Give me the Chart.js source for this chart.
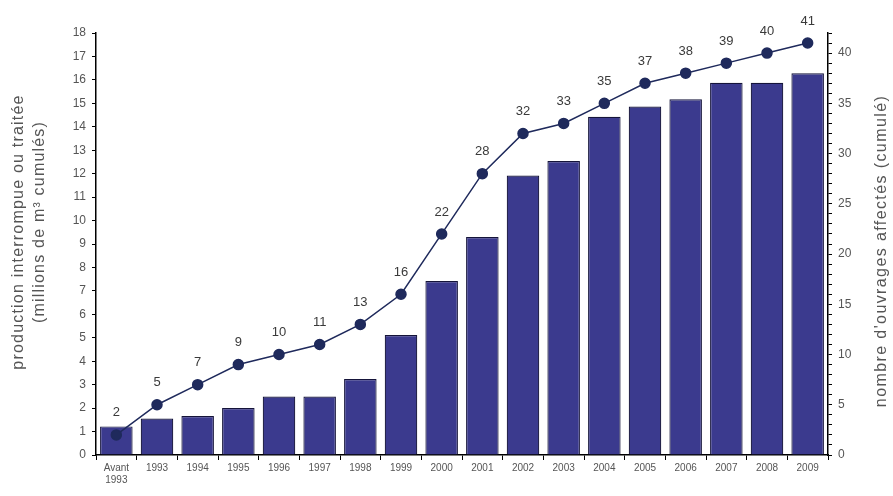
<!DOCTYPE html>
<html>
<head>
<meta charset="utf-8">
<script src="https://cdn.jsdelivr.net/npm/chart.js@4"></script>
<style>
  html, body { margin: 0; padding: 0; background: #fff; }
  #wrap { width: 893px; height: 496px; }
</style>
</head>
<body>
<div id="wrap"><canvas id="myChart"></canvas></div>
<script>
"use strict";
const years = [['Avant', '1993'], '1993', '1994', '1995', '1996', '1997', '1998', '1999', '2000',
  '2001', '2002', '2003', '2004', '2005', '2006', '2007', '2008', '2009'];
const production = [1.22, 1.56, 1.66, 2.0, 2.49, 2.49, 3.24, 5.12, 7.42, 9.3, 11.92, 12.54,
  14.43, 14.86, 15.17, 15.88, 15.88, 16.28];
const ouvrages = [2, 5, 7, 9, 10, 11, 13, 16, 22, 28, 32, 33, 35, 37, 38, 39, 40, 41];
const leftTitle = ['production interrompue ou traitée', '(millions de m³ cumulés)'];
const rightTitle = "nombre d'ouvrages affectés (cumulé)";

const fontName = "'Liberation Sans', sans-serif";

// numbers above the line points + rotated axis titles
const extras = {
  id: 'extras',
  afterDatasetsDraw(chart) {
    const ctx = chart.ctx;
    const meta = chart.getDatasetMeta(1);
    ctx.save();
    ctx.fillStyle = '#3a3a3a';
    ctx.font = '13px ' + fontName;
    ctx.textAlign = 'center';
    ctx.textBaseline = 'middle';
    meta.data.forEach((pt, i) => {
      ctx.fillText(String(ouvrages[i]), pt.x, pt.y - 22);
    });
    ctx.restore();
  },
  afterDraw(chart) {
    const ctx = chart.ctx;
    ctx.save();
    ctx.fillStyle = '#555';
    ctx.font = '16px ' + fontName;
    ctx.letterSpacing = '1.2px';
    ctx.textAlign = 'center';
    ctx.textBaseline = 'middle';
    ctx.translate(19, 232);
    ctx.rotate(-Math.PI / 2);
    ctx.fillText(leftTitle[0], 0, 0);
    ctx.fillText(leftTitle[1], 10, 21);
    ctx.restore();
    ctx.save();
    ctx.fillStyle = '#555';
    ctx.font = '16px ' + fontName;
    ctx.letterSpacing = '1.4px';
    ctx.textAlign = 'center';
    ctx.textBaseline = 'middle';
    ctx.translate(882, 251);
    ctx.rotate(-Math.PI / 2);
    ctx.fillText(rightTitle, 0, 0);
    ctx.restore();
  }
};

const data = {
  labels: years,
  datasets: [{
    type: 'bar',
    label: 'production',
    data: production,
    yAxisID: 'y',
    backgroundColor: '#3b3a8e',
    borderColor: '#15143a',
    borderWidth: 1.2,
    categoryPercentage: 1,
    barPercentage: 0.8,
    order: 2
  },
  {
    type: 'line',
    label: 'ouvrages',
    data: ouvrages,
    yAxisID: 'y1',
    borderColor: '#1f2a5c',
    borderWidth: 1.5,
    pointRadius: 5,
    pointBackgroundColor: '#1f2a5c',
    pointBorderColor: '#1f2a5c',
    tension: 0,
    order: 1
  }]
};

const config = {
  type: 'bar',
  data: data,
  options: {
    responsive: true,
    maintainAspectRatio: false,
    animation: false,
    layout: { padding: { top: 33, left: 0, right: 0, bottom: 0 } },
    plugins: {
      legend: { display: false },
      tooltip: { enabled: false }
    },
    scales: {
      x: {
        offset: true,
        grid: { display: true, offset: true, drawOnChartArea: false, color: '#000', tickLength: 5 },
        border: { color: '#000', width: 1.5 },
        ticks: { color: '#555', font: { size: 10, family: fontName }, maxRotation: 0, autoSkip: false, padding: 2 },
        afterFit(scale) { scale.height = 41; }
      },
      y: {
        position: 'left',
        min: 0,
        max: 18,
        grid: { drawOnChartArea: false, color: '#000', tickLength: 4 },
        border: { color: '#000', width: 1.5 },
        ticks: { stepSize: 1, color: '#555', font: { size: 12, family: fontName }, padding: 6 },
        afterFit(scale) { scale.width = 96; }
      },
      y1: {
        position: 'right',
        min: 0,
        max: 42,
        grid: { drawOnChartArea: false, color: '#000', tickLength: 4 },
        border: { color: '#000', width: 1.5 },
        ticks: {
          stepSize: 1,
          autoSkip: false,
          color: '#555',
          font: { size: 12, family: fontName },
          padding: 6,
          callback: (v) => (v % 5 === 0 ? String(v) : '')
        },
        afterFit(scale) { scale.width = 65; }
      }
    }
  },
  plugins: [extras]
};

let canvasChart = document.getElementById('myChart');
const myChart = new Chart(canvasChart, config);
</script>
</body>
</html>
